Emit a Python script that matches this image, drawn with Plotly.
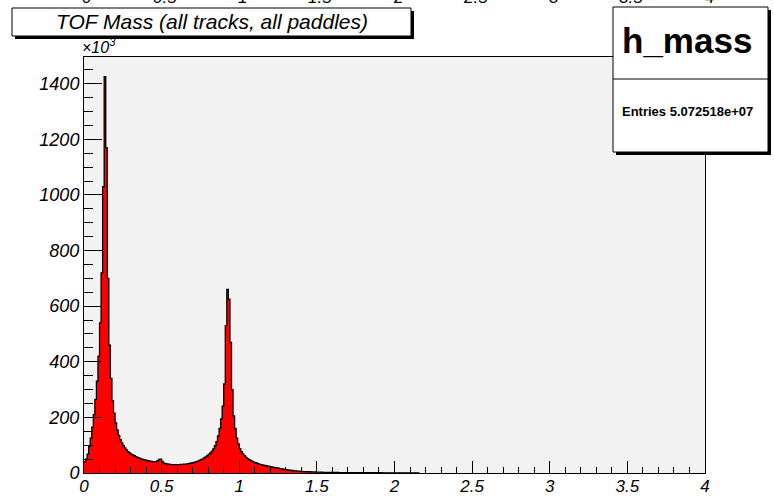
import plotly.graph_objects as go

# ---------------- data ----------------
bin_low = 0.0
bin_width = 0.01
# counts per bin, in units of 10^3 (bins from 0.00 to 2.16)
counts_k = [
    40, 50, 68, 95, 125, 165, 210, 265, 330, 420,
    540, 720, 1030, 1425, 1170, 700, 460, 340, 260, 215,
    180, 155, 135, 120, 108, 98, 90, 83, 77, 72,
    68, 65, 62, 59, 56, 54, 52, 50, 48, 47,
    45, 44, 43, 42, 41, 40, 41, 44, 49, 50,
    42, 36, 34, 33, 32, 31, 30, 30, 30, 30,
    30, 30, 31, 31, 32, 32, 33, 34, 35, 36,
    37, 39, 41, 43, 45, 48, 51, 54, 58, 62,
    67, 72, 79, 87, 98, 113, 133, 160, 195, 240,
    320, 530, 660, 625, 470, 300, 205, 160, 125, 105,
    88, 77, 69, 62, 56, 52, 48, 45, 42, 39,
    37, 35, 33, 31, 30, 28, 27, 26, 25, 24,
    23, 21, 20, 19, 18, 17, 16, 15, 14, 13,
    12, 11, 10, 9, 9, 8, 8, 7, 7, 6,
    6, 5, 5, 5, 4.5, 4.5, 4, 4, 4, 3.5,
    3.5, 3, 3, 3, 2.5, 2.5, 2.2, 2.1, 2.0, 2.0,
    1.9, 1.9, 1.8, 1.8, 1.7, 1.7, 1.6, 1.6, 1.5, 1.5,
    1.5, 1.4, 1.4, 1.4, 1.3, 1.3, 1.3, 1.2, 1.2, 1.2,
    1.1, 1.1, 1.1, 1.0, 1.0, 1.0, 1.0, 0.9, 0.9, 0.9,
    0.9, 0.9, 0.8, 0.8, 0.8, 0.8, 0.8, 0.8, 0.7, 0.7,
    0.7, 0.7, 0.7, 0.7, 0.7, 0.6, 0.6, 0.6, 0.6, 0.6,
    0.6, 0.6, 0.6, 0.6, 0.6, 0.6,
]
x_tick_vals = [0, 0.5, 1, 1.5, 2, 2.5, 3, 3.5, 4]
x_tick_labels = ["0", "0.5", "1", "1.5", "2", "2.5", "3", "3.5", "4"]
y_tick_vals = [0, 200, 400, 600, 800, 1000, 1200, 1400]
y_tick_labels = ["0", "200", "400", "600", "800", "1000", "1200", "1400"]
title_text = "TOF Mass (all tracks, all paddles)"
stats_name = "h_mass"
stats_entries = "Entries 5.072518e+07"
y_multiplier = "×10<sup>3</sup>"

# ---------------- geometry helpers (pixel -> paper) ----------------
W, H = 774, 496
L, R, T, B = 84, 705, 57, 473


def px(x):
    return (x - L) / (R - L)


def py(y):
    return (B - y) / (B - T)


edges = [bin_low + i * bin_width for i in range(len(counts_k) + 1)]
ys = counts_k + [counts_k[-1]]

FONT = "Liberation Sans"

fig = go.Figure()
fig.add_trace(go.Scatter(
    x=edges, y=ys, mode="lines", line=dict(shape="hv", color="black", width=1.3),
    fill="tozeroy", fillcolor="#ff0000", hoverinfo="skip", showlegend=False,
))

shapes = [
    # title box with shadow
    dict(type="rect", xref="paper", yref="paper", x0=px(15), x1=px(414), y0=py(39), y1=py(11),
         fillcolor="black", line=dict(width=0), layer="above"),
    dict(type="rect", xref="paper", yref="paper", x0=px(12), x1=px(411), y0=py(36), y1=py(8),
         fillcolor="white", line=dict(color="black", width=1), layer="above"),
    # stats box with shadow
    dict(type="rect", xref="paper", yref="paper", x0=px(616), x1=px(771), y0=py(155), y1=py(10),
         fillcolor="black", line=dict(width=0), layer="above"),
    dict(type="rect", xref="paper", yref="paper", x0=px(613), x1=px(768), y0=py(152), y1=py(7),
         fillcolor="white", line=dict(color="black", width=1), layer="above"),
    dict(type="line", xref="paper", yref="paper", x0=px(613), x1=px(768), y0=py(79), y1=py(79),
         line=dict(color="black", width=1), layer="above"),
]

annotations = [
    dict(text=title_text, xref="paper", yref="paper", x=px(212), y=py(22), showarrow=False,
         xanchor="center", yanchor="middle",
         font=dict(family=FONT, size=21, color="black", style="italic")),
    dict(text="<b>" + stats_name + "</b>", xref="paper", yref="paper", x=px(687), y=py(40),
         showarrow=False, xanchor="center", yanchor="middle",
         font=dict(family=FONT, size=35, color="black")),
    dict(text="<b>" + stats_entries + "</b>", xref="paper", yref="paper", x=px(687), y=py(111),
         showarrow=False, xanchor="center", yanchor="middle",
         font=dict(family=FONT, size=13, color="black")),
    dict(text=y_multiplier, xref="paper", yref="paper", x=px(80), y=py(46), showarrow=False,
         xanchor="left", yanchor="middle",
         font=dict(family=FONT, size=16, color="black", style="italic")),
]
# partially visible tick labels of the pad above (cut by the top edge)
for v, lab in zip(x_tick_vals, x_tick_labels):
    annotations.append(dict(
        text=lab, xref="paper", yref="paper", x=px(87 + 155.5 * v), y=py(9),
        showarrow=False, xanchor="center", yanchor="bottom",
        font=dict(family=FONT, size=17, color="black", style="italic")))

fig.update_layout(
    width=W, height=H,
    margin=dict(l=L, r=W - R, t=T, b=H - B, pad=0),
    paper_bgcolor="white", plot_bgcolor="#f2f2f2",
    shapes=shapes, annotations=annotations, showlegend=False,
)
fig.update_xaxes(
    range=[0, 4], tickmode="array", tickvals=x_tick_vals, ticktext=x_tick_labels,
    ticks="inside", ticklen=12, tickwidth=1, tickcolor="black",
    minor=dict(tickmode="linear", tick0=0, dtick=0.1, ticks="inside", ticklen=6,
               tickwidth=1, tickcolor="black", showgrid=False),
    tickfont=dict(family=FONT, size=17, color="black", style="italic"),
    ticklabelstandoff=-2,
    showgrid=False, zeroline=False, showline=True, mirror=True,
    linecolor="black", linewidth=1, automargin=False,
)
fig.update_yaxes(
    range=[0, 1496], tickmode="array", tickvals=y_tick_vals, ticktext=y_tick_labels,
    ticks="inside", ticklen=18, tickwidth=1, tickcolor="black",
    minor=dict(tickmode="linear", tick0=0, dtick=50, ticks="inside", ticklen=9,
               tickwidth=1, tickcolor="black", showgrid=False),
    tickfont=dict(family=FONT, size=18, color="black", style="italic"),
    showgrid=False, zeroline=False, showline=True, mirror=True,
    linecolor="black", linewidth=1, automargin=False,
)

fig.write_html("out.html")
